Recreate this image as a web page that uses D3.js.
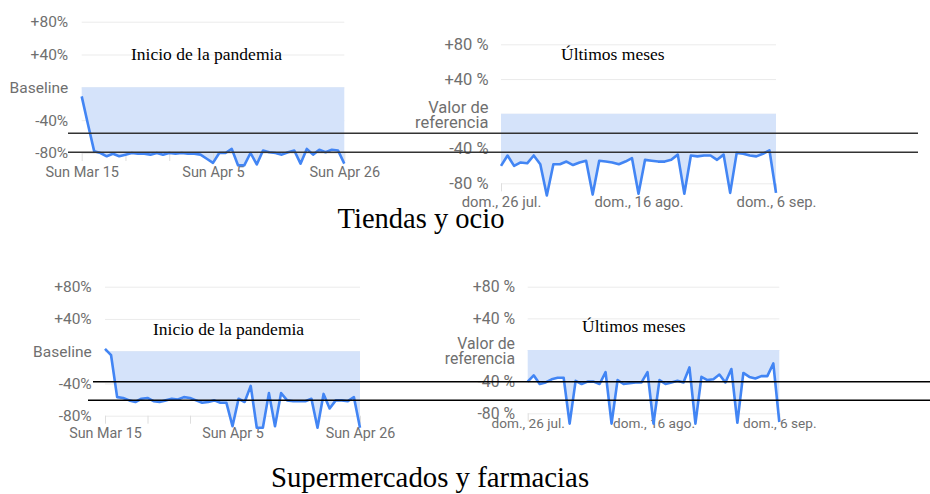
<!DOCTYPE html>
<html>
<head>
<meta charset="utf-8">
<script src="https://cdn.jsdelivr.net/npm/d3@7"></script>
<style>
    body { margin: 0; background: #fff; }
    svg { display: block; }
</style>
</head>
<body>
<div id="chart"></div>
<script>
// values (% change from baseline)
const tiendasInicio = [-11, -45, -78, -80, -84, -81, -84, -82, -80, -81, -81, -82, -80, -82, -80, -81, -80, -81, -81, -82, -87,
    -92, -80, -80, -75, -95, -95, -80, -94, -77, -79, -80, -82, -79, -77, -93, -75, -82, -76, -79, -76, -77, -93];
const tiendasMeses = [-60, -48, -60, -56, -57, -48, -58, -94, -58, -58, -55, -59, -56, -54, -93, -54, -55, -56, -58, -55, -51,
    -92, -53, -54, -55, -55, -53, -47, -92, -48, -49, -48, -48, -53, -47, -91, -45, -46, -48, -49, -46, -42, -91];
const superInicio = [3, -5, -57, -58, -61, -63, -59, -58, -62, -63, -61, -59, -60, -57, -58, -61, -64, -63, -61, -64, -64,
    -93, -59, -63, -43, -95, -95, -52, -93, -52, -61, -62, -62, -62, -59, -95, -53, -71, -61, -61, -62, -57, -95];
const superMeses = [-40, -32, -43, -41, -37, -35, -35, -93, -39, -43, -40, -40, -43, -28, -93, -38, -43, -42, -41, -41, -28,
    -93, -38, -43, -41, -39, -41, -22, -93, -34, -38, -37, -31, -41, -24, -92, -29, -34, -36, -33, -33, -17, -91];

const inicioDays = d3.utcDay.range(new Date(Date.UTC(2020, 2, 15)), new Date(Date.UTC(2020, 3, 27)));
const mesesDays = d3.utcDay.range(new Date(Date.UTC(2020, 6, 26)), new Date(Date.UTC(2020, 8, 7)));

const inicioLabels = ["Sun Mar 15", "Sun Apr 5", "Sun Apr 26"];
const mesesLabels = ["dom., 26 jul.", "dom., 16 ago.", "dom., 6 sep."];
const yTicks = [-80, -40, 0, 40, 80];
const yLabelsEn = ["-80%", "-40%", "Baseline", "+40%", "+80%"];
const yLabelsEs = ["-80 %", "-40 %", "Valor de|referencia", "+40 %", "+80 %"];

const width = 930,
    height = 494;
const axisGrey = "#6f6f6f";

const svg = d3.select("#chart")
    .append("svg")
    .attr("width", width)
    .attr("height", height);

function drawPanel(o) {
    let x = d3.scaleUtc()
        .domain([o.days[0], o.days[o.days.length - 1]])
        .range([o.x0, o.x1]);
    let y = d3.scaleLinear()
        .domain([-80, 80])
        .range([o.yBottom, o.yTop]);

    let g = svg.append("g");

    // y axis + gridlines
    g.append("g")
        .attr("transform", `translate(${o.x0},0)`)
        .call(d3.axisLeft(y)
            .tickValues(yTicks)
            .tickSize(-(o.x1 - o.x0))
            .tickPadding(o.yPad)
            .tickFormat((d, i) => o.yLabels[i]))
        .call(a => a.select(".domain").remove())
        .call(a => a.selectAll(".tick line").attr("stroke", "#ebebeb").attr("stroke-width", 1))
        .call(a => a.selectAll(".tick text")
            .attr("fill", axisGrey)
            .attr("font-family", "Roboto, sans-serif")
            .attr("font-size", o.yFont)
            .each(function (d, i) {
                let parts = o.yLabels[i].split("|");
                if (parts.length > 1) {
                    let t = d3.select(this).text(null);
                    parts.forEach((p, k) => {
                        t.append("tspan")
                            .attr("x", -o.yPad)
                            .attr("y", k === 0 ? -6.5 : 8)
                            .attr("dy", "0.32em")
                            .text(p);
                    });
                }
            }));

    // area between baseline and line
    let area = d3.area()
        .x((d, i) => x(o.days[i]))
        .y0(y(0))
        .y1(d => y(d));
    g.append("path")
        .datum(o.values)
        .attr("fill", "#d5e3fa")
        .attr("d", area);

    // x axis, weekly ticks
    let weeks = o.days.filter((d, i) => i % 7 === 0);
    g.append("g")
        .attr("transform", `translate(0,${o.yBottom})`)
        .call(d3.axisBottom(x)
            .tickValues(weeks)
            .tickSize(8)
            .tickFormat((d, i) => i % 3 === 0 ? o.xLabels[i / 3] : ""))
        .call(a => a.select(".domain").remove())
        .call(a => a.selectAll(".tick line").attr("stroke", "#dedede"))
        .call(a => a.selectAll(".tick text")
            .attr("fill", axisGrey)
            .attr("font-family", "Roboto, sans-serif")
            .attr("font-size", o.xFont)
            .attr("y", o.xLabelY)
            .attr("dy", "0.35em"));

    let line = d3.line()
        .x((d, i) => x(o.days[i]))
        .y(d => y(d));
    g.append("path")
        .datum(o.values)
        .attr("fill", "none")
        .attr("stroke", "#4285f4")
        .attr("stroke-width", 2.6)
        .attr("stroke-linejoin", "round")
        .attr("d", line);

    g.append("text")
        .attr("x", o.noteX)
        .attr("y", o.noteY)
        .attr("font-family", "'Liberation Serif', 'Times New Roman', serif")
        .attr("font-size", 17.5)
        .attr("fill", "#000")
        .text(o.note);
}

drawPanel({
    days: inicioDays, values: tiendasInicio, x0: 81.7, x1: 344.3, yTop: 21.7, yBottom: 153,
    yLabels: yLabelsEn, xLabels: inicioLabels, yFont: 15.5, xFont: 14.5, yPad: 13.5, xLabelY: 18.5,
    note: "Inicio de la pandemia", noteX: 131, noteY: 60
});
drawPanel({
    days: mesesDays, values: tiendasMeses, x0: 501, x1: 776, yTop: 44.3, yBottom: 183.3,
    yLabels: yLabelsEs, xLabels: mesesLabels, yFont: 16.5, xFont: 14.8, yPad: 12.5, xLabelY: 18.4,
    note: "Últimos meses", noteX: 561, noteY: 60
});
drawPanel({
    days: inicioDays, values: superInicio, x0: 105, x1: 360, yTop: 286.7, yBottom: 415.7,
    yLabels: yLabelsEn, xLabels: inicioLabels, yFont: 15.5, xFont: 14.3, yPad: 13.3, xLabelY: 17.6,
    note: "Inicio de la pandemia", noteX: 153, noteY: 335
});
drawPanel({
    days: mesesDays, values: superMeses, x0: 527.7, x1: 779.3, yTop: 286.7, yBottom: 413.3,
    yLabels: yLabelsEs, xLabels: mesesLabels, yFont: 15.8, xFont: 13.6, yPad: 12.7, xLabelY: 9.5,
    note: "Últimos meses", noteX: 582, noteY: 332
});

// section titles
svg.append("text")
    .attr("x", 421)
    .attr("y", 228)
    .attr("text-anchor", "middle")
    .attr("font-family", "'Liberation Serif', 'Times New Roman', serif")
    .attr("font-size", 28.5)
    .text("Tiendas y ocio");
svg.append("text")
    .attr("x", 430)
    .attr("y", 487)
    .attr("text-anchor", "middle")
    .attr("font-family", "'Liberation Serif', 'Times New Roman', serif")
    .attr("font-size", 28.8)
    .text("Supermercados y farmacias");

// hand-drawn reference lines laid over the screenshots
const guides = [
    { x1: 68, x2: 918, y: 133.3, c: "#333" },
    { x1: 68, x2: 918, y: 152.3, c: "#333" },
    { x1: 93, x2: 930, y: 381.7, c: "#000" },
    { x1: 88, x2: 930, y: 400.3, c: "#000" }
];
svg.selectAll(".guide")
    .data(guides)
    .enter()
    .append("line")
    .attr("class", "guide")
    .attr("x1", d => d.x1)
    .attr("x2", d => d.x2)
    .attr("y1", d => d.y)
    .attr("y2", d => d.y)
    .attr("stroke", d => d.c)
    .attr("stroke-width", 1.4);
</script>
</body>
</html>
